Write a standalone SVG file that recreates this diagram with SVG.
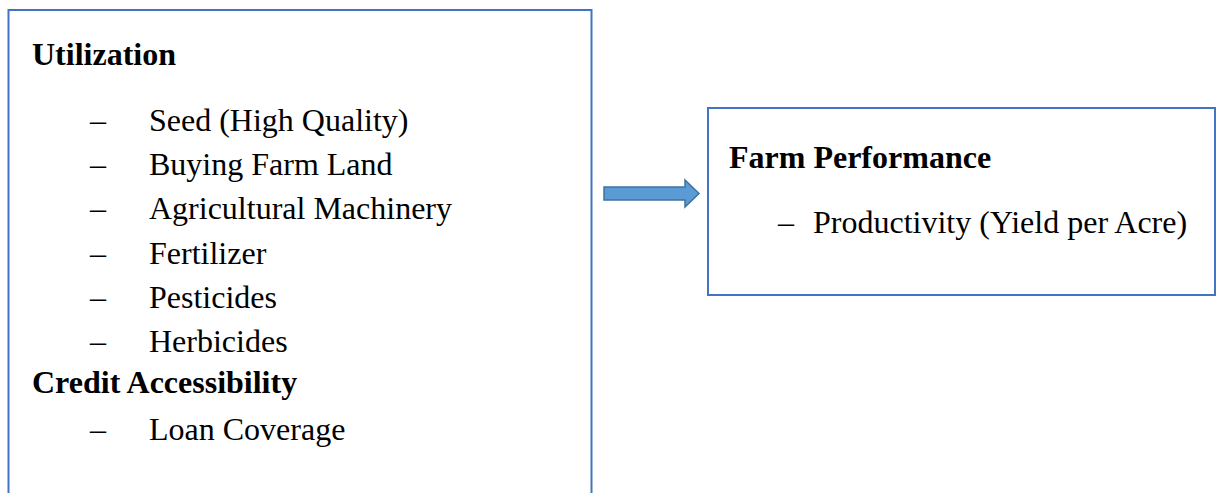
<svg xmlns="http://www.w3.org/2000/svg" width="1218" height="493" viewBox="0 0 1218 493">
<style>
.box{fill:#ffffff;stroke:#4472c4;stroke-width:2}
.t{font-family:"Liberation Serif","Times New Roman",serif;font-size:32px;fill:#000}
.h{font-weight:bold}
.arrow{fill:#5b9bd5;stroke:#41719c;stroke-width:1.5}
</style>
<rect width="1218" height="493" fill="#ffffff"/>
<g id="node-left">
<rect class="box" x="8.5" y="10" width="583" height="500"/>
<text class="t h" x="32" y="65">Utilization</text>
<text class="t" x="90" y="131">–</text><text class="t" x="149" y="131">Seed (High Quality)</text>
<text class="t" x="90" y="175">–</text><text class="t" x="149" y="175">Buying Farm Land</text>
<text class="t" x="90" y="219">–</text><text class="t" x="149" y="219">Agricultural Machinery</text>
<text class="t" x="90" y="264">–</text><text class="t" x="149" y="264">Fertilizer</text>
<text class="t" x="90" y="308">–</text><text class="t" x="149" y="308">Pesticides</text>
<text class="t" x="90" y="352">–</text><text class="t" x="149" y="352">Herbicides</text>
<text class="t h" x="32" y="393">Credit Accessibility</text>
<text class="t" x="90" y="440">–</text><text class="t" x="149" y="440">Loan Coverage</text>
</g>
<g id="node-right">
<rect class="box" x="708" y="108" width="507" height="187"/>
<text class="t h" x="729" y="168">Farm Performance</text>
<text class="t" x="778" y="233">–</text><text class="t" x="813" y="233">Productivity (Yield per Acre)</text>
</g>
<g id="connectors">
<polygon class="arrow" points="604,187 685,187 685,180 699,193.5 685,207 685,200 604,200"/>
</g>
</svg>
